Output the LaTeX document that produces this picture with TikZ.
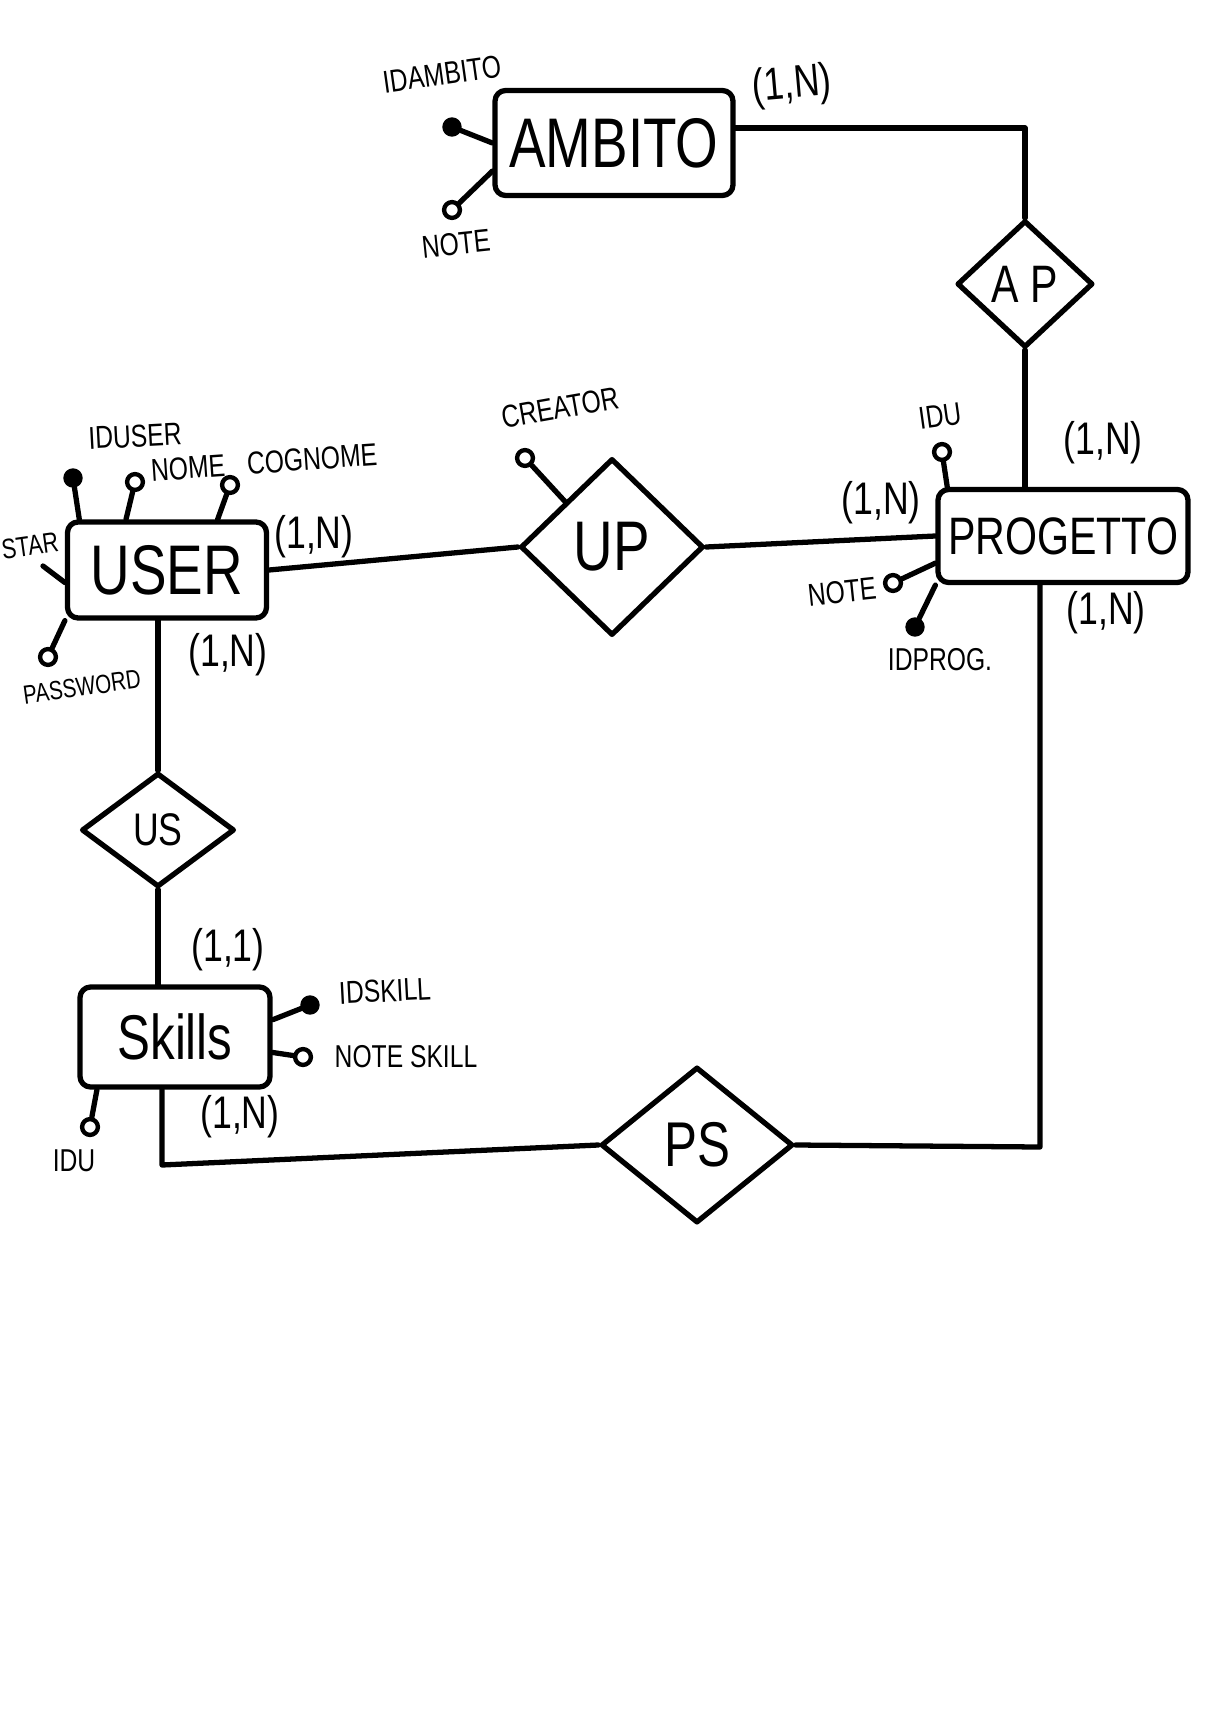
\documentclass[tikz,border=0pt]{standalone}
\usepackage{fontspec}
\setmainfont{Liberation Sans}[FakeStretch=0.78]
\usepackage{tikz}
\usetikzlibrary{shapes.geometric}

\begin{document}
\begin{tikzpicture}[x=0.02cm,y=-0.02cm,line width=3pt,line cap=round,line join=round]
\tikzstyle{entity}=[draw,rounded corners=6pt,inner sep=0pt,font=\fontsize{40pt}{44pt}\selectfont]
\tikzstyle{relation}=[draw,diamond,inner sep=0pt,font=\fontsize{32pt}{36pt}\selectfont]
\tikzstyle{keyattr}=[draw,fill=black,circle,inner sep=0pt,minimum size=8pt]
\tikzstyle{attr}=[draw,fill=white,circle,inner sep=0pt,minimum size=9pt,line width=2.5pt]
\tikzstyle{attrname}=[inner sep=0pt,font=\fontsize{18pt}{20pt}\selectfont]
\tikzstyle{cardinality}=[inner sep=1pt,font=\fontsize{26pt}{30pt}\selectfont]

\useasboundingbox[fill=white] (0,0) rectangle (1227,1736);

        % entities
        \node[entity,minimum width=4.76cm,minimum height=2.1cm]              (ambito)   at (614,143)  {AMBITO};
        \node[entity,minimum width=3.98cm,minimum height=1.92cm]             (user)     at (167,570)  {USER};
        \node[entity,minimum width=5.0cm,minimum height=1.86cm,
              font=\fontsize{30pt}{34pt}\selectfont]                         (progetto) at (1063,536) {PROGETTO};
        \node[entity,minimum width=3.8cm,minimum height=2.0cm,
              font=\fontsize{36pt}{40pt}\selectfont]                         (skills)   at (175,1037) {Skills};

        % relations
        \node[relation,minimum width=3.66cm,minimum height=3.54cm,
              font=\fontsize{40pt}{44pt}\selectfont]                         (up) at (612,547)  {UP};
        \node[relation,minimum width=2.72cm,minimum height=2.54cm,
              font=\fontsize{30pt}{34pt}\selectfont]                         (ap) at (1025,284) {A P};
        \node[relation,minimum width=3.06cm,minimum height=2.28cm,
              font=\fontsize{26pt}{30pt}\selectfont]                         (us) at (158,830)  {US};
        \node[relation,minimum width=3.84cm,minimum height=3.12cm,
              font=\fontsize{36pt}{40pt}\selectfont]                         (ps) at (697,1145) {PS};

        \coordinate (cps)    at (1040,1147);
        \coordinate (cskill) at (162,1165);

        \path[-]
        (user.east)  edge (up.west)
        (up.east)    edge (progetto.west)
        (ap.south)   edge (ap.south |- progetto.north)
        (us.north |- user.south) edge (us.north)
        (us.south)   edge (us.south |- skills.north)
        ; %end path

        \draw ([yshift=0.3cm]ambito.east) -| (ap.north);
        \draw (progetto.south -| cps) -- (cps) -- (ps.east);
        \draw (ps.west) -- (cskill) -- (cskill |- skills.south);

        % attributes of AMBITO
        \node[keyattr] (idambito) at (452,127) {};
        \node[attrname,rotate=8] (lidambito) at (442,74) {IDAMBITO};
        \node[attr] (noteamb) at (452,210) {};
        \node[attrname,rotate=6] (lnoteamb) at (456,244) {NOTE};
        \draw (idambito) -- (ambito.west);
        \draw (noteamb) -- (ambito.193);

        % attributes of USER
        \node[keyattr] (iduser) at (73,478) {};
        \node[attrname,rotate=3] (liduser) at (135,436) {IDUSER};
        \node[attr] (nome) at (135,482) {};
        \node[attrname,rotate=4] (lnome) at (188,468) {NOME};
        \node[attr] (cognome) at (230,485) {};
        \node[attrname,rotate=4] (lcognome) at (312,459) {COGNOME};
        \coordinate (star) at (43,566);
        \node[attrname,rotate=8,font=\fontsize{16pt}{18pt}\selectfont] (lstar) at (30,546) {STAR};
        \node[attr] (password) at (48,657) {};
        \node[attrname,rotate=8,font=\fontsize{15pt}{17pt}\selectfont] (lpassword) at (82,687) {PASSWORD};
        \draw (iduser) -- (user.150);
        \draw (nome) -- (user.129);
        \draw (cognome) -- (user.45);
        \draw (star) -- (user.187);
        \draw (password) -- (user.south west);

        % attribute of UP
        \node[attr] (creator) at (525,458) {};
        \node[attrname,rotate=10] (lcreator) at (560,408) {CREATOR};
        \draw (creator) -- (up.north west);

        % attributes of PROGETTO
        \node[attr] (idu) at (942,452) {};
        \node[attrname,rotate=8] (lidu) at (940,416) {IDU};
        \node[attr] (noteprog) at (893,583) {};
        \node[attrname,rotate=6] (lnoteprog) at (842,592) {NOTE};
        \node[keyattr] (idprog) at (915,627) {};
        \node[attrname] (lidprog) at (940,660) {IDPROG.};
        \draw (idu) -- (progetto.157);
        \draw (noteprog) -- (progetto.192);
        \draw (idprog) -- (progetto.south west);

        % attributes of Skills
        \node[keyattr] (idskill) at (310,1005) {};
        \node[attrname,rotate=3] (lidskill) at (385,991) {IDSKILL};
        \node[attr] (noteskill) at (303,1057) {};
        \node[attrname] (lnoteskill) at (406,1057) {NOTE SKILL};
        \node[attr] (iduskill) at (90,1127) {};
        \node[attrname] (liduskill) at (74,1161) {IDU};
        \draw (idskill) -- (skills.10);
        \draw (noteskill) -- (skills.-9);
        \draw (iduskill) -- (skills.214);

        % cardinalities
        \node[cardinality,rotate=5] (c1) at (792,86)   {(1,N)};
        \node[cardinality] (c2) at (1103,443)  {(1,N)};
        \node[cardinality] (c3) at (881,503)   {(1,N)};
        \node[cardinality] (c4) at (1106,613)  {(1,N)};
        \node[cardinality] (c5) at (314,537)   {(1,N)};
        \node[cardinality] (c6) at (228,655)   {(1,N)};
        \node[cardinality] (c7) at (228,950)   {(1,1)};
        \node[cardinality] (c8) at (240,1117)  {(1,N)};

\end{tikzpicture}
\end{document}
